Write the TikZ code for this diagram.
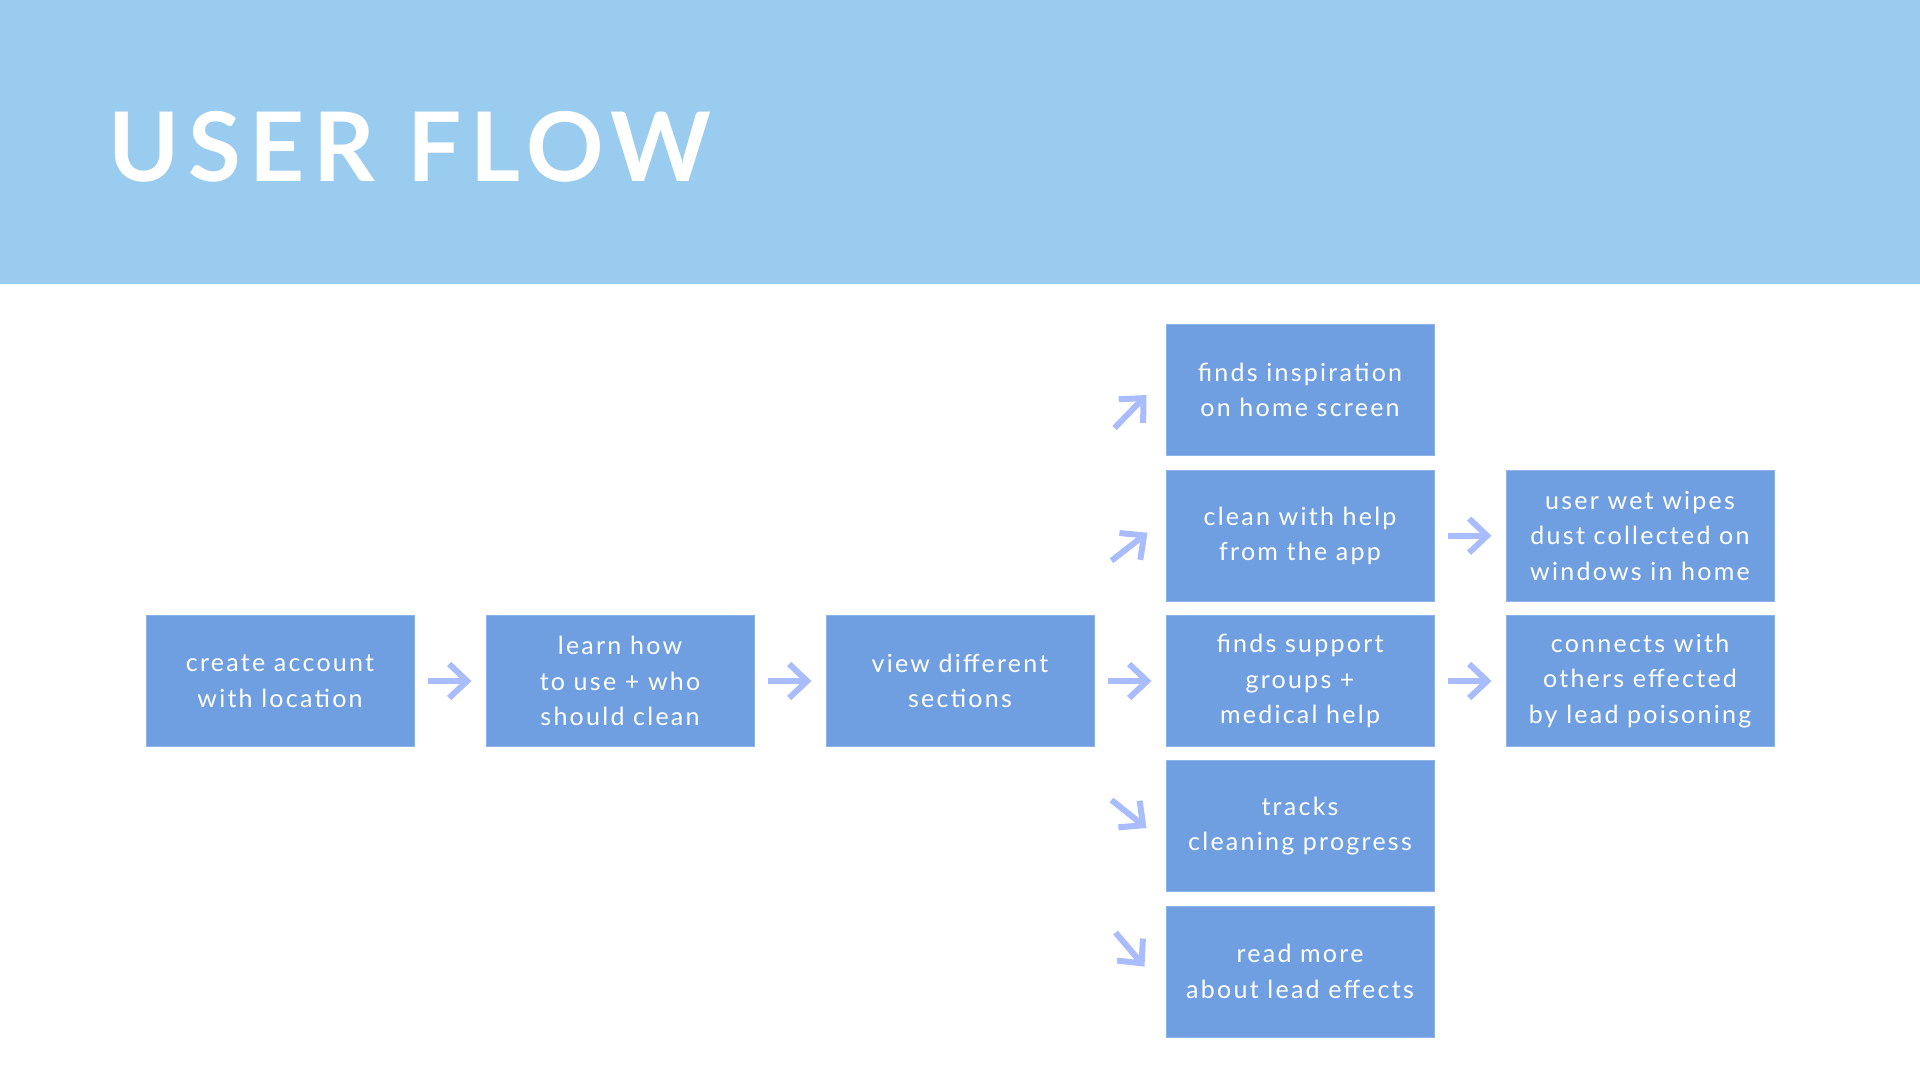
\documentclass[tikz,border=0pt]{standalone}
\usepackage{fontspec}
\setmainfont{Lato}
\newfontfamily\titlefont{Lato}[LetterSpace=9]
\newfontfamily\boxfont{Lato}[LetterSpace=9]
\usetikzlibrary{arrows.meta,positioning}
\definecolor{bandblue}{RGB}{153,204,238}
\definecolor{boxblue}{RGB}{111,159,224}
\definecolor{boxedge}{RGB}{140,180,235}
\definecolor{arrowblue}{RGB}{168,188,254}
\tikzset{
	flowbox/.style={fill=boxblue,draw=boxedge,line width=1pt,text=white,minimum width=268pt,minimum height=131pt,inner sep=0pt,align=center,font=\boxfont\fontsize{25}{35.5}\selectfont},
	arr/.style={draw=arrowblue,line width=6pt,-{Straight Barb[length=18pt,width=34pt]}},
}
\begin{document}
\begin{tikzpicture}[x=1pt,y=-1pt]
	\useasboundingbox (0,0) rectangle (1920,1080);
	\fill[bandblue] (0,0) rectangle (1920,284);
	\node[anchor=base west,text=white,inner sep=0pt,font=\titlefont\bfseries\fontsize{96}{110}\selectfont] (title) at (108,181) {USER FLOW};
	% main line
	\node[flowbox] (account) at (280,681) {create account\\with location};
	\node[flowbox] (learn) at (620,681) {learn how\\to use + who\\should clean};
	\node[flowbox] (sections) at (960,681) {view different\\sections};
	% branches
	\node[flowbox] (inspire) at (1300,390) {finds inspiration\\on home screen};
	\node[flowbox] (clean) at (1300,535.7) {clean with help\\from the app};
	\node[flowbox] (support) at (1300,681) {finds support\\groups +\\medical help};
	\node[flowbox] (tracks) at (1300,826) {tracks\\cleaning progress};
	\node[flowbox] (readmore) at (1300,971.6) {read more\\about lead effects};
	\node[flowbox] (wipes) at (1640,535.7) {user wet wipes\\dust collected on\\windows in home};
	\node[flowbox] (connects) at (1640,681) {connects with\\others effected\\by lead poisoning};
	% arrows
	\foreach \a/\b in {account/learn,learn/sections,sections/support,clean/wipes,support/connects}
		\draw[arr,shorten <=13pt,shorten >=14pt] (\a.east) -- (\b.west);
	\coordinate (in1) at ([shift={(-19,5)}]inspire.west);
	\coordinate (in2) at ([shift={(-18,-3)}]clean.west);
	\coordinate (in4) at ([shift={(-19,2)}]tracks.west);
	\coordinate (in5) at ([shift={(-21,-5)}]readmore.west);
	\draw[arr] ([shift={(-51,38)}]inspire.west) -- (in1);
	\draw[arr] ([shift={(-54,25)}]clean.west) -- (in2);
	\draw[arr] ([shift={(-54,-26)}]tracks.west) -- (in4);
	\draw[arr] ([shift={(-50,-39)}]readmore.west) -- (in5);
\end{tikzpicture}
\end{document}
